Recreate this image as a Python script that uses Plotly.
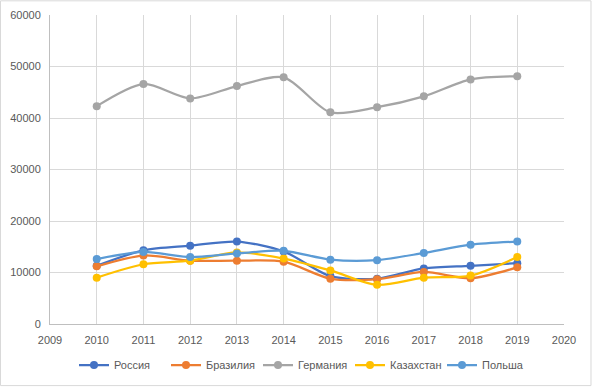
import plotly.graph_objects as go

years = [2010, 2011, 2012, 2013, 2014, 2015, 2016, 2017, 2018, 2019]
russia = [11300, 14300, 15200, 16000, 14100, 9300, 8800, 10800, 11300, 11800]
brazil = [11200, 13300, 12300, 12300, 12100, 8800, 8700, 10100, 8900, 11000]
germany = [42300, 46600, 43800, 46200, 47900, 41100, 42100, 44200, 47500, 48100]
kazakhstan = [9000, 11600, 12300, 13900, 12700, 10400, 7600, 9000, 9400, 13000]
poland = [12600, 14000, 13000, 13700, 14200, 12500, 12400, 13800, 15400, 16000]

series = [
    ("Россия", russia, "#4472C4"),
    ("Бразилия", brazil, "#ED7D31"),
    ("Германия", germany, "#A5A5A5"),
    ("Казахстан", kazakhstan, "#FFC000"),
    ("Польша", poland, "#5B9BD5"),
]

fig = go.Figure()
for name, vals, color in series:
    fig.add_trace(go.Scatter(
        x=years, y=vals, name=name, mode="lines+markers",
        line=dict(color=color, width=2.25, shape="spline", smoothing=0.8),
        marker=dict(color=color, size=8),
    ))

font = dict(family="Liberation Sans, Arial, sans-serif", size=11, color="#595959")
fig.update_layout(
    width=592, height=387,
    margin=dict(l=50, r=28, t=15, b=63, autoexpand=False),
    paper_bgcolor="white", plot_bgcolor="white",
    font=font,
    showlegend=True,
    legend=dict(orientation="h", x=304 / 592, xanchor="center", xref="container",
                y=1 - 365 / 387, yanchor="middle", yref="container",
                font=font, itemwidth=30, entrywidth=47),
    xaxis=dict(range=[2009, 2020], dtick=1, tick0=2009, showgrid=True,
               gridcolor="#D9D9D9", gridwidth=1, showline=True, linecolor="#BFBFBF",
               linewidth=1, zeroline=False, ticks="", tickfont=font,
               ticklabelstandoff=6, tickformat="d"),
    yaxis=dict(range=[0, 60000], dtick=10000, showgrid=True, gridcolor="#D9D9D9",
               gridwidth=1, showline=True, linecolor="#BFBFBF", linewidth=1,
               zeroline=False, ticks="", tickfont=font, ticklabelstandoff=6,
               tickformat="d"),
    shapes=[dict(type="rect", xref="paper", yref="paper",
                 x0=-0.0963, x1=1.0525, y0=-0.1993, y1=1.0459,
                 line=dict(color="#D9D9D9", width=1), layer="below")],
)
fig.write_html("out.html", config={"displayModeBar": False},
               post_script="document.body.style.margin='0';document.body.style.overflow='hidden';")
